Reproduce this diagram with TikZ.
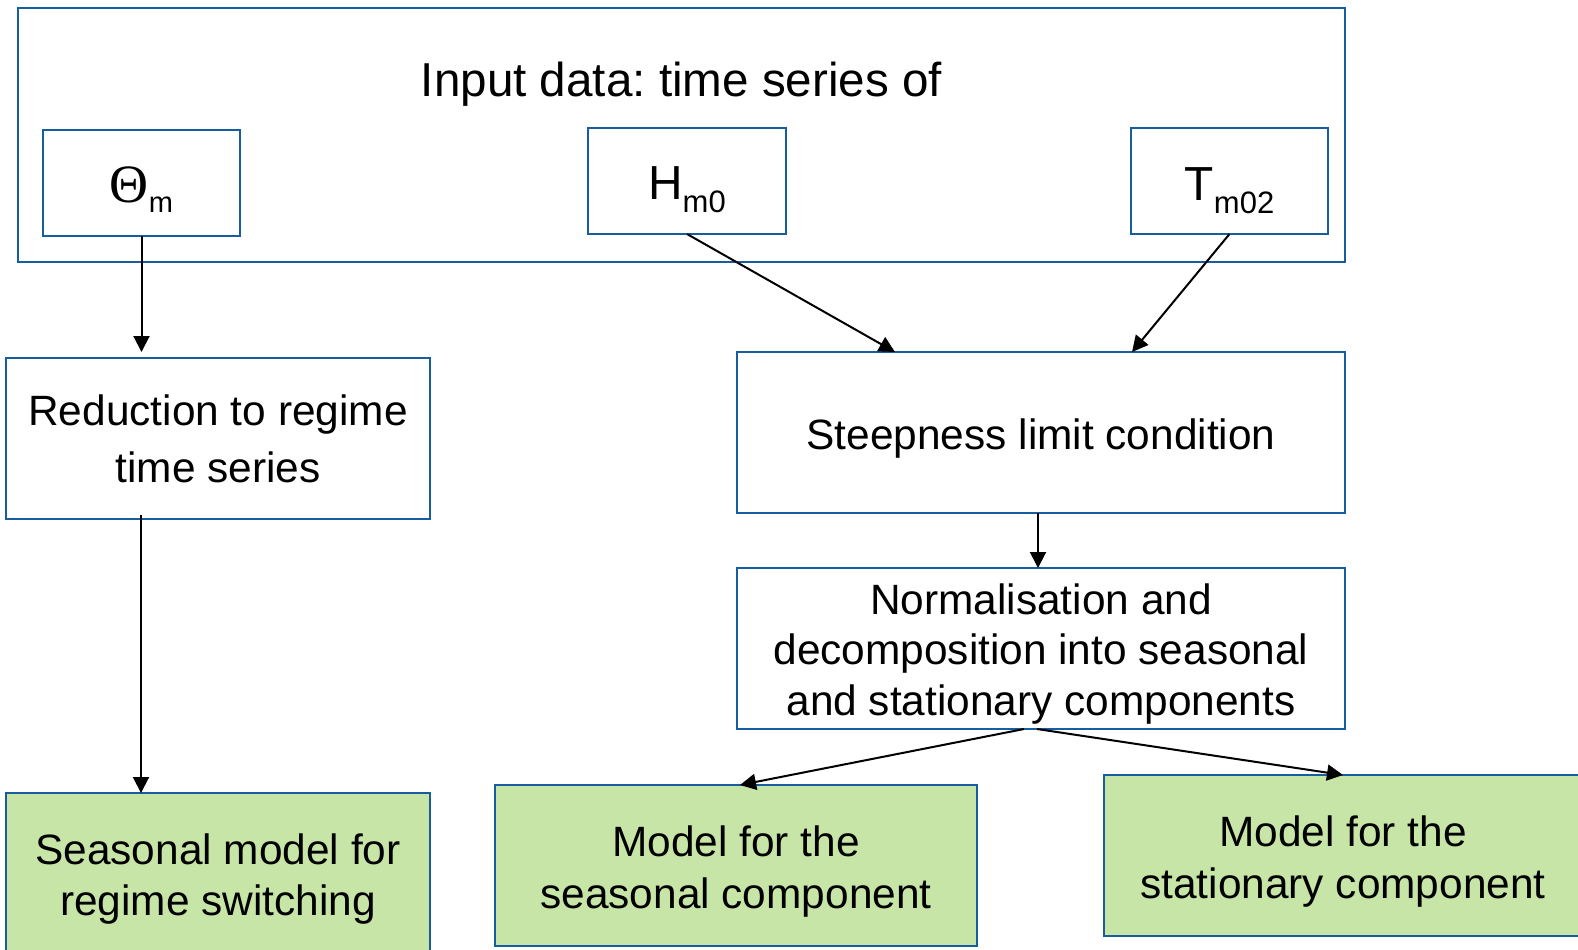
\documentclass[tikz,border=0pt]{standalone}
\usepackage{fontspec}
\setmainfont{Liberation Sans}
\newfontfamily\thetafont{Liberation Serif}
\usetikzlibrary{arrows.meta,calc}
\definecolor{boxblue}{RGB}{22,94,160}
\definecolor{boxgreen}{RGB}{199,229,166}
\newcommand{\btxt}[2]{\raisebox{#1}[0pt][0pt]{\begin{tabular}[t]{@{}c@{}}#2\end{tabular}}}
\frenchspacing
\begin{document}
\begin{tikzpicture}[x=0.5pt,y=-0.5pt,
  box/.style={draw=boxblue, line width=1.2pt, inner sep=0pt, outer sep=0pt, fill=white},
  gbox/.style={box, fill=boxgreen},
  txt/.style={font=\fontsize{21.2pt}{26pt}\selectfont},
  arr/.style={-{Triangle[length=8pt,width=8pt]}, line width=1pt, draw=black}]
\useasboundingbox (0,0) rectangle (1578,949);
% outer input box
\node[box, minimum width=663.5pt, minimum height=127pt] (input) at (681.5,135) {};
\node[anchor=base, font=\fontsize{23.8pt}{28pt}\selectfont] (title) at (681.5,96) {Input data: time series of};
% variable boxes
\node[box, minimum width=98.5pt, minimum height=53pt] (theta) at (141.5,183)
  {\btxt{-9.5pt}{{\thetafont\fontsize{27pt}{30pt}\selectfont Θ}\raisebox{-5pt}{\fontsize{14.5pt}{17pt}\selectfont m}}};
\node[box, minimum width=99pt, minimum height=53pt] (hm0) at (687,181)
  {\btxt{-9pt}{{\fontsize{23.9pt}{28pt}\selectfont H}\raisebox{-6.5pt}{\fontsize{15.5pt}{18pt}\selectfont m0}}};
\node[box, minimum width=98.5pt, minimum height=53pt] (tm02) at (1229.5,181)
  {\btxt{-9.5pt}{{\fontsize{23.9pt}{28pt}\selectfont T}\raisebox{-6.5pt}{\fontsize{15.5pt}{18pt}\selectfont m02}}};
% processing boxes
\node[box, txt, font=\fontsize{21.2pt}{28.5pt}\selectfont, minimum width=212pt, minimum height=80.5pt] (red) at (218,438.5)
  {\btxt{6.5pt}{Reduction to regime\\time series}};
\node[box, txt, minimum width=304pt, minimum height=80.5pt] (steep) at (1041,432.5)
  {\btxt{-8.25pt}{Steepness limit condition}};
\node[box, txt, font=\fontsize{21.2pt}{25.25pt}\selectfont, minimum width=304pt, minimum height=80.5pt] (norm) at (1041,648.5)
  {\btxt{17.25pt}{Normalisation and\\decomposition into seasonal\\and stationary components}};
% model boxes
\node[gbox, txt, font=\fontsize{21.2pt}{25.75pt}\selectfont, minimum width=212pt, minimum height=80.5pt] (seas) at (218,873.5)
  {\btxt{4.6pt}{Seasonal model for\\regime switching}};
\node[gbox, txt, minimum width=241pt, minimum height=80.5pt] (mseas) at (736,865.5)
  {\btxt{4.75pt}{Model for the\\seasonal component}};
\node[gbox, txt, font=\fontsize{21.2pt}{26pt}\selectfont, minimum width=239pt, minimum height=80.5pt] (mstat) at (1343,855.5)
  {\btxt{4.5pt}{Model for the\\stationary component}};
% connectors
\draw[arr, shorten >=3pt] (theta.south) -- (theta.south |- red.north);
\draw[arr] (hm0.south) -- ($(steep.north)+(-146,0)$);
\draw[arr] (tm02.south) -- ($(steep.north)+(91,0)$);
\draw[arr] ($(steep.south)+(-3,0)$) -- ($(norm.north)+(-3,0)$);
\draw[arr] ($(red.south)+(-77,-4)$) -- ($(seas.north)+(-77,0)$);
\draw[arr] ($(norm.south)+(-17,0)$) -- ($(mseas.north)+(4,0)$);
\draw[arr] ($(norm.south)+(-4,0)$) -- (mstat.north);
\end{tikzpicture}
\end{document}
